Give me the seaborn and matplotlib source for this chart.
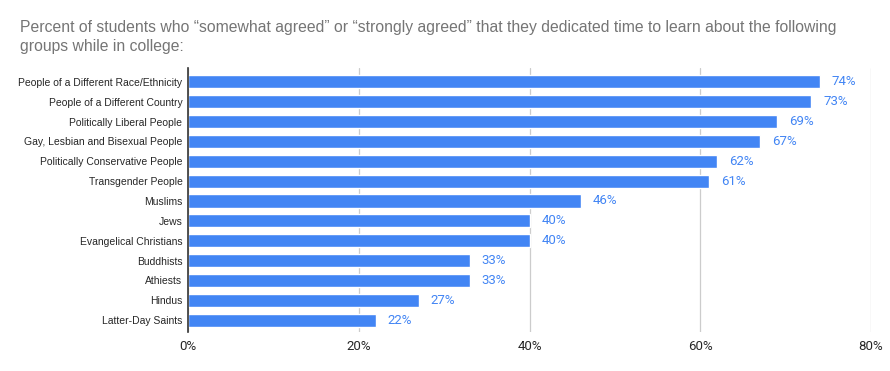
import matplotlib
matplotlib.use("Agg")
import matplotlib.pyplot as plt
import seaborn as sns
import pandas as pd

groups = ["People of a Different Race/Ethnicity", "People of a Different Country",
          "Politically Liberal People", "Gay, Lesbian and Bisexual People",
          "Politically Conservative People", "Transgender People", "Muslims", "Jews",
          "Evangelical Christians", "Buddhists", "Athiests", "Hindus", "Latter-Day Saints"]
percent = [74, 73, 69, 67, 62, 61, 46, 40, 40, 33, 33, 27, 22]
xticks = [0, 20, 40, 60, 80]

df = pd.DataFrame({"group": groups, "percent": percent})

sns.set_style("white")
plt.rcParams['font.family'] = ['Liberation Sans', 'DejaVu Sans']

fig = plt.figure(figsize=(8.9, 3.71), dpi=100)
ax = fig.add_axes([188/890, 1 - 332/371, (871-188)/890, (332-68)/371])

sns.barplot(data=df, x="percent", y="group", color="#4285F4", saturation=1,
            width=0.66, ax=ax, zorder=3)

# value labels to the right of each bar
for i, v in enumerate(percent):
    ax.text(v + 1.4, i, f"{v}%", va="center", ha="left", color="#4285F4",
            fontsize=9.5, family=['Roboto', 'DejaVu Sans'])

ax.set_xlim(0, 80)
ax.set_ylim(12.6, -0.7)
ax.set_xticks(xticks)
ax.set_xticklabels([f"{t}%" for t in xticks], fontsize=9.5, family=['Roboto', 'DejaVu Sans'])
ax.tick_params(axis="y", labelsize=7.5, length=0, pad=4)
ax.tick_params(axis="x", length=0, pad=6)
ax.grid(axis="x", color="#cccccc", linewidth=0.9, zorder=0)
ax.set_xlabel("")
ax.set_ylabel("")
for s in ["top", "right", "bottom"]:
    ax.spines[s].set_visible(False)
ax.spines["left"].set_color("#333333")
ax.spines["left"].set_linewidth(1.2)
ax.spines["left"].set_zorder(4)

fig.text(20/890, 1 - 20/371,
         "Percent of students who \u201csomewhat agreed\u201d or \u201cstrongly agreed\u201d that they dedicated time to learn about the following\ngroups while in college:",
         ha="left", va="top", fontsize=11.3, color="#757575", linespacing=1.35)

plt.savefig("out.png", dpi=100)
